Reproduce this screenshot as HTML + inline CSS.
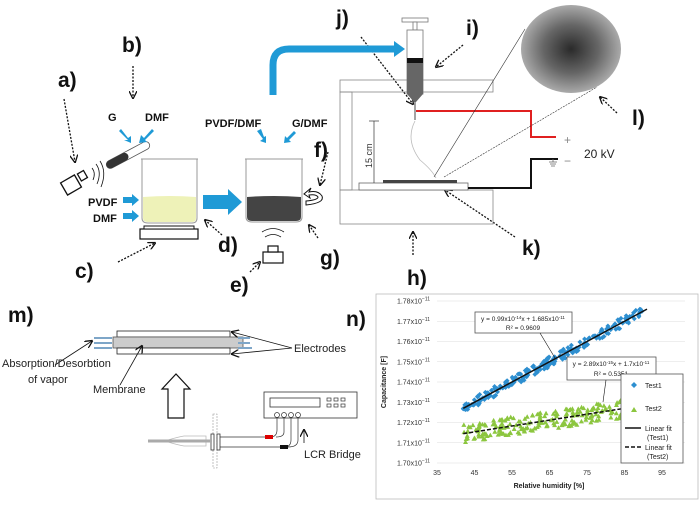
<!DOCTYPE html>
<html><head><meta charset="utf-8">
<style>
html,body{margin:0;padding:0;background:#fff;}
svg{display:block;font-family:"Liberation Sans",sans-serif;}
.lb{font-weight:bold;font-size:21px;fill:#111;}
.sm{font-weight:bold;font-size:11px;fill:#111;}
.tk{font-size:7px;fill:#333;}
</style></head><body>
<svg id="s" width="700" height="505" viewBox="0 0 700 505" xmlns="http://www.w3.org/2000/svg">
<defs>
<marker id="ah" markerWidth="8" markerHeight="8" refX="7" refY="4" orient="auto" markerUnits="userSpaceOnUse"><path d="M0,0 L8,4 L0,8" fill="none" stroke="#111" stroke-width="1.3"/></marker>
<radialGradient id="mg" cx="0.5" cy="0.5" r="0.5"><stop offset="0" stop-color="#2a2a2a"/><stop offset="0.55" stop-color="#666"/><stop offset="1" stop-color="#aaa"/></radialGradient>
</defs>
<!-- labels -->
<text class="lb" x="58" y="87">a)</text>
<text class="lb" x="122" y="52">b)</text>
<text class="lb" x="75" y="278">c)</text>
<text class="lb" x="218" y="252">d)</text>
<text class="lb" x="230" y="292">e)</text>
<text class="lb" x="314" y="157">f)</text>
<text class="lb" x="320" y="265">g)</text>
<text class="lb" x="407" y="285">h)</text>
<text class="lb" x="466" y="35">i)</text>
<text class="lb" x="336" y="25">j)</text>
<text class="lb" x="522" y="255">k)</text>
<text class="lb" x="632" y="125">l)</text>
<text class="lb" x="8" y="322">m)</text>
<text class="lb" x="346" y="326">n)</text>
<!-- dotted arrows -->
<g stroke="#111" stroke-width="1.3" stroke-dasharray="2,1.5" fill="none" marker-end="url(#ah)">
<line x1="64" y1="99" x2="75" y2="162"/>
<line x1="133" y1="66" x2="133" y2="98"/>
<line x1="118" y1="262" x2="155" y2="243"/>
<line x1="222" y1="235" x2="205" y2="220"/>
<line x1="250" y1="272" x2="260" y2="262"/>
<line x1="328" y1="152" x2="320" y2="185"/>
<line x1="318" y1="238" x2="309" y2="225"/>
<line x1="413" y1="255" x2="413" y2="232"/>
<line x1="463" y1="45" x2="436" y2="67"/>
<line x1="361" y1="37" x2="413" y2="104"/>
<line x1="515" y1="237" x2="445" y2="190"/>
<line x1="617" y1="113" x2="600" y2="97"/>
</g>
<!-- a) ultrasonic gun -->
<g stroke="#111" stroke-width="1.3" fill="#fff">
<rect x="63" y="178" width="16" height="14" transform="rotate(-30 71 185)"/>
<rect x="79" y="172" width="7" height="8" transform="rotate(-30 82 176)"/>
<path d="M92,168 Q96,173 93,180 M96,164 Q102,172 97,184 M100,161 Q107,172 101,187" fill="none" stroke-width="0.8"/>
</g>
<!-- test tube -->
<g transform="rotate(-28 128 155)">
<rect x="104" y="151" width="48" height="8" rx="4" fill="#fff" stroke="#555" stroke-width="0.8"/>
<rect x="104" y="151" width="24" height="8" rx="4" fill="#333"/>
</g>
<text class="sm" x="108" y="121">G</text>
<text class="sm" x="145" y="121">DMF</text>
<g fill="#1f9ad6">
<path d="M119,131 L128,140 L124,140 L131,143 L131,136 L128,138 L121,129Z"/>
<path d="M152,129 L144,138 L141,135 L139,143 L147,142 L145,140 L154,131Z"/>
</g>
<!-- beaker 1 -->
<path d="M142,159 L142,218 Q142,223 148,223 L192,223 Q197,223 197,218 L197,159" fill="none" stroke="#999" stroke-width="1"/>
<line x1="141" y1="159" x2="198" y2="159" stroke="#999"/>
<path d="M143,197 Q170,195 196,197 L196,218 Q196,222 192,222 L148,222 Q143,222 143,218Z" fill="#eef2b8"/>
<rect x="140" y="229" width="58" height="10" fill="#fff" stroke="#111" stroke-width="1.2"/>
<rect x="144" y="226" width="50" height="3" fill="#fff" stroke="#111" stroke-width="1"/>
<text class="sm" x="88" y="206">PVDF</text>
<text class="sm" x="93" y="222">DMF</text>
<path d="M123,197 L132,197 L132,194 L139,200 L132,206 L132,203 L123,203Z" fill="#1f9ad6"/>
<path d="M123,213 L132,213 L132,210 L139,216 L132,222 L132,219 L123,219Z" fill="#1f9ad6"/>
<!-- big arrow -->
<path d="M203,195 L228,195 L228,189 L242,202 L228,215 L228,209 L203,209Z" fill="#1f9ad6"/>
<!-- beaker 2 -->
<path d="M246,159 L246,217 Q246,222 252,222 L296,222 Q302,222 302,217 L302,159" fill="none" stroke="#999"/>
<line x1="245" y1="159" x2="303" y2="159" stroke="#999"/>
<path d="M247,197 Q274,195 301,197 L301,217 Q301,221 296,221 L252,221 Q247,221 247,217Z" fill="#444"/>
<text class="sm" x="205" y="127">PVDF/DMF</text>
<text class="sm" x="292" y="127">G/DMF</text>
<path d="M257,131 L263,139 L260,141 L266,143 L266,136 L264,137 L261,129Z" fill="#1f9ad6"/>
<path d="M294,131 L287,138 L285,136 L284,143 L291,142 L289,140 L296,133Z" fill="#1f9ad6"/>
<!-- rotation -->
<path d="M306,205 Q325,203 322,196 Q318,190 309,192 L311,188 L304,194 L310,198 L309,195 Q316,194 318,197 Q318,200 306,201Z" fill="#fff" stroke="#111" stroke-width="1"/>
<!-- e) ultrasonic -->
<rect x="263" y="252" width="20" height="11" fill="#fff" stroke="#111" stroke-width="1.2"/>
<rect x="268" y="246" width="10" height="6" fill="#fff" stroke="#111" stroke-width="1.2"/>
<path d="M265,237 Q273,232 281,237 M262,232 Q273,225 284,232" fill="none" stroke="#111" stroke-width="0.8"/>
<!-- pipe -->
<path d="M273,95 L273,65 Q273,49 289,49 L396,49" fill="none" stroke="#1f9ad6" stroke-width="7"/>
<path d="M394,41 L405,49 L394,57Z" fill="#1f9ad6"/>
<!-- electrospinning frame -->
<g fill="none" stroke="#888" stroke-width="0.8">
<rect x="340" y="80" width="153" height="12"/>
<rect x="340" y="92" width="12" height="98"/>
<rect x="340" y="190" width="153" height="34"/>
</g>
<rect x="359" y="183" width="109" height="7" fill="#fff" stroke="#666" stroke-width="0.8"/>
<rect x="383" y="180" width="74" height="3" fill="#444"/>
<!-- syringe -->
<rect x="402" y="18" width="26" height="4" fill="#fff" stroke="#777" stroke-width="0.8"/>
<rect x="413" y="22" width="4" height="8" fill="#fff" stroke="#777" stroke-width="0.8"/>
<rect x="407" y="30" width="16" height="64" fill="#fff" stroke="#777" stroke-width="0.8"/>
<rect x="407" y="58" width="16" height="5" fill="#111"/>
<rect x="407" y="63" width="16" height="31" fill="#666"/>
<path d="M407,94 L423,94 L416,102 L414,102Z" fill="#666"/>
<line x1="415" y1="102" x2="415" y2="120" stroke="#666" stroke-width="1.2"/>
<path d="M415,121 Q405,140 420,160 Q432,170 436,178" fill="none" stroke="#bbb" stroke-width="0.8"/>
<!-- wires -->
<path d="M416,111 L531,111 L531,137 L556,137" fill="none" stroke="#e02020" stroke-width="2"/>
<path d="M468,188 L531,188 L531,159 L558,159" fill="none" stroke="#111" stroke-width="2"/>
<text x="564" y="144" font-size="12" fill="#888">+</text>
<text x="564" y="165" font-size="12" fill="#888">−</text>
<text x="584" y="158" font-size="12" fill="#222">20 kV</text>
<path d="M549,162 L557,162 M550,164 L556,164 M551,166 L555,166 M553,159 L553,162" stroke="#666" stroke-width="0.8"/>
<!-- 15 cm -->
<line x1="374" y1="121" x2="374" y2="183" stroke="#333" stroke-width="0.7"/>
<line x1="369" y1="121" x2="379" y2="121" stroke="#333" stroke-width="0.7"/>
<text x="0" y="0" font-size="9" fill="#333" transform="translate(372,168) rotate(-90)">15 cm</text>
<!-- micrograph -->
<line x1="434" y1="177" x2="525" y2="29" stroke="#333" stroke-width="0.6"/>
<line x1="444" y1="177" x2="597" y2="87" stroke="#333" stroke-width="0.6" stroke-dasharray="2,1"/>
<ellipse cx="571" cy="49" rx="50" ry="44" fill="url(#mg)"/>
<!-- m) sensor -->
<ellipse cx="176" cy="343" rx="16" ry="9" fill="#333"/>
<rect x="117" y="331" width="113" height="6" fill="#fff" stroke="#222" stroke-width="0.8"/>
<rect x="113" y="337" width="130" height="11" fill="#ccc" stroke="#555" stroke-width="0.8"/>
<rect x="117" y="348" width="113" height="6" fill="#fff" stroke="#222" stroke-width="0.8"/>
<g stroke="#7ea6c8" stroke-width="2">
<line x1="94" y1="338" x2="112" y2="338"/><line x1="94" y1="343" x2="112" y2="343"/><line x1="94" y1="348" x2="112" y2="348"/>
<line x1="238" y1="338" x2="250" y2="338"/><line x1="238" y1="343" x2="250" y2="343"/><line x1="238" y1="348" x2="252" y2="348"/>
</g>
<g stroke="#111" stroke-width="0.8" fill="none" marker-end="url(#ah)">
<line x1="55" y1="365" x2="92" y2="341"/>
<line x1="120" y1="385" x2="142" y2="346"/>
<line x1="292" y1="348" x2="232" y2="332"/>
<line x1="292" y1="348" x2="232" y2="354"/>
<line x1="304" y1="443" x2="304" y2="430"/>
</g>
<text x="2" y="367" font-size="11" fill="#222">Absorption/Desorbtion</text>
<text x="28" y="383" font-size="11" fill="#222">of vapor</text>
<text x="93" y="393" font-size="11" fill="#222">Membrane</text>
<text x="294" y="352" font-size="11" fill="#222">Electrodes</text>
<text x="304" y="458" font-size="11" fill="#222">LCR Bridge</text>
<path d="M168,418 L184,418 L184,389 L190,389 L176,374 L162,389 L168,389Z" fill="#fff" stroke="#111" stroke-width="1.2"/>
<!-- LCR -->
<rect x="264" y="392" width="93" height="26" fill="#fff" stroke="#333" stroke-width="0.8"/>
<rect x="270" y="398" width="50" height="9" fill="#fff" stroke="#333" stroke-width="0.8"/>
<g fill="none" stroke="#333" stroke-width="0.7">
<rect x="327" y="398" width="4" height="3"/><rect x="334" y="398" width="4" height="3"/><rect x="341" y="398" width="4" height="3"/>
<rect x="327" y="404" width="4" height="3"/><rect x="334" y="404" width="4" height="3"/><rect x="341" y="404" width="4" height="3"/>
<circle cx="277" cy="415" r="2.5"/><circle cx="284" cy="415" r="2.5"/><circle cx="291" cy="415" r="2.5"/><circle cx="298" cy="415" r="2.5"/>
<path d="M277,417 L277,430 Q277,437 270,437 M284,417 L284,432 Q284,437 276,437 M291,417 L291,440 Q291,447 284,447 M298,417 L298,440 Q298,447 288,447"/>
</g>
<rect x="213" y="414" width="4" height="54" fill="none" stroke="#999" stroke-width="0.6" stroke-dasharray="2,1"/>
<line x1="217" y1="437" x2="266" y2="437" stroke="#333" stroke-width="0.8"/>
<line x1="217" y1="447" x2="280" y2="447" stroke="#333" stroke-width="0.8"/>
<rect x="211" y="434" width="3" height="16" fill="#fff" stroke="#333" stroke-width="0.8"/>
<rect x="217" y="434" width="3" height="16" fill="#fff" stroke="#333" stroke-width="0.8"/>
<rect x="265" y="435" width="8" height="4" fill="#d00"/>
<rect x="280" y="445" width="8" height="4" fill="#111"/>
<path d="M168,440 Q178,437 184,436 L206,436 L206,446 L184,446 Q178,445 168,442" fill="none" stroke="#bbb" stroke-width="0.8"/>
<line x1="148" y1="441" x2="212" y2="441" stroke="#aaa" stroke-width="3"/>
<!-- chart -->
<rect x="376" y="294" width="322" height="205" fill="#fff" stroke="#bbb" stroke-width="0.8"/>
<g id="grid" stroke="#ddd" stroke-width="0.6"></g>
<g id="ticks"></g>
<g id="pts"></g>
<line x1="440" y1="356" x2="657" y2="312" stroke="#111" stroke-width="0"/>
<line id="f1" stroke="#111" stroke-width="1.5"/>
<line id="f2" stroke="#111" stroke-width="1.5" stroke-dasharray="4,2"/>
<rect x="475" y="312" width="97" height="21" fill="#fff" stroke="#555" stroke-width="0.8"/>
<text x="523" y="321" font-size="6.5" text-anchor="middle" fill="#222">y = 0.99x10<tspan font-size="4.5" dy="-2">-14</tspan><tspan dy="2">x + 1.685x10</tspan><tspan font-size="4.5" dy="-2">-11</tspan></text>
<text x="523" y="330" font-size="6.5" text-anchor="middle" fill="#222">R² = 0.9609</text>
<rect x="567" y="357" width="89" height="23" fill="#fff" stroke="#555" stroke-width="0.8"/>
<text x="611" y="366" font-size="6.5" text-anchor="middle" fill="#222">y = 2.89x10<tspan font-size="4.5" dy="-2">-15</tspan><tspan dy="2">x + 1.7x10</tspan><tspan font-size="4.5" dy="-2">-11</tspan></text>
<text x="611" y="376" font-size="6.5" text-anchor="middle" fill="#222">R² = 0.5351</text>
<line x1="540" y1="333" x2="555" y2="358" stroke="#111" stroke-width="0.6"/>
<line x1="606" y1="380" x2="603" y2="402" stroke="#111" stroke-width="0.6"/>
<rect x="621" y="374" width="62" height="89" fill="#fff" stroke="#555" stroke-width="0.8"/>
<path d="M631,385 l3,-3 l3,3 l-3,3z" fill="#2e8fd0"/>
<text x="645" y="388" font-size="7" fill="#222">Test1</text>
<path d="M631,412 l3,-5 l3,5z" fill="#8cc63f"/>
<text x="645" y="411" font-size="7" fill="#222">Test2</text>
<line x1="625" y1="428" x2="641" y2="428" stroke="#111" stroke-width="1.5"/>
<text x="645" y="431" font-size="7" fill="#222">Linear fit</text>
<text x="647" y="440" font-size="7" fill="#222">(Test1)</text>
<line x1="625" y1="447" x2="641" y2="447" stroke="#111" stroke-width="1.5" stroke-dasharray="4,2"/>
<text x="645" y="450" font-size="7" fill="#222">Linear fit</text>
<text x="647" y="459" font-size="7" fill="#222">(Test2)</text>
<text x="0" y="0" font-size="7" font-weight="bold" fill="#222" text-anchor="middle" transform="translate(386,382) rotate(-90)">Capacitance [F]</text>
<text x="549" y="488" font-size="7" font-weight="bold" fill="#222" text-anchor="middle">Relative humidity [%]</text>
</svg>
<script>
(function(){
var NS="http://www.w3.org/2000/svg";
function X(v){return 437+(v-35)*3.75;}
function Y(v){return 463-(v-1.70)*2025;}
function el(p,t,a){var e=document.createElementNS(NS,t);for(var k in a)e.setAttribute(k,a[k]);p.appendChild(e);return e;}
var g=document.getElementById('grid'),tk=document.getElementById('ticks');
for(var i=0;i<=8;i++){var v=1.70+i*0.01,y=Y(v);el(g,'line',{x1:437,x2:685,y1:y,y2:y});
var t=el(tk,'text',{x:430,y:y+2.5,'font-size':7,'text-anchor':'end',fill:'#333'});t.textContent=v.toFixed(2)+'x10';var s=el(t,'tspan',{'font-size':5,dy:-3});s.textContent='−11';}
for(var j=0;j<7;j++){var xv=35+j*10;var t2=el(tk,'text',{x:X(xv),y:475,'font-size':7,'text-anchor':'middle',fill:'#333'});t2.textContent=xv;}
var f1=document.getElementById('f1');f1.setAttribute('x1',X(42));f1.setAttribute('y1',Y(1.727));f1.setAttribute('x2',X(91));f1.setAttribute('y2',Y(1.776));
var f2=document.getElementById('f2');f2.setAttribute('x1',X(42));f2.setAttribute('y1',Y(1.7145));f2.setAttribute('x2',X(85));f2.setAttribute('y2',Y(1.727));
var p=document.getElementById('pts');var seed=7;function r(){seed=(seed*9301+49297)%233280;return seed/233280;}
for(var k=0;k<220;k++){var h=42+r()*49;var c=1.727+(h-42)*0.001+(r()-0.5)*0.005;var x=X(h),y=Y(c);
el(p,'path',{d:'M'+(x-2.5)+','+y+' l2.5,-2.5 l2.5,2.5 l-2.5,2.5z',fill:'#2e8fd0'});}
for(var k=0;k<200;k++){var h=42+r()*43;var c=1.7145+(h-42)*0.00029+(r()-0.5)*0.009;var x=X(h),y=Y(c);
el(p,'path',{d:'M'+(x-2.5)+','+(y+2)+' l2.5,-4.5 l2.5,4.5z',fill:'#8cc63f'});}
})();
</script>
</body></html>
